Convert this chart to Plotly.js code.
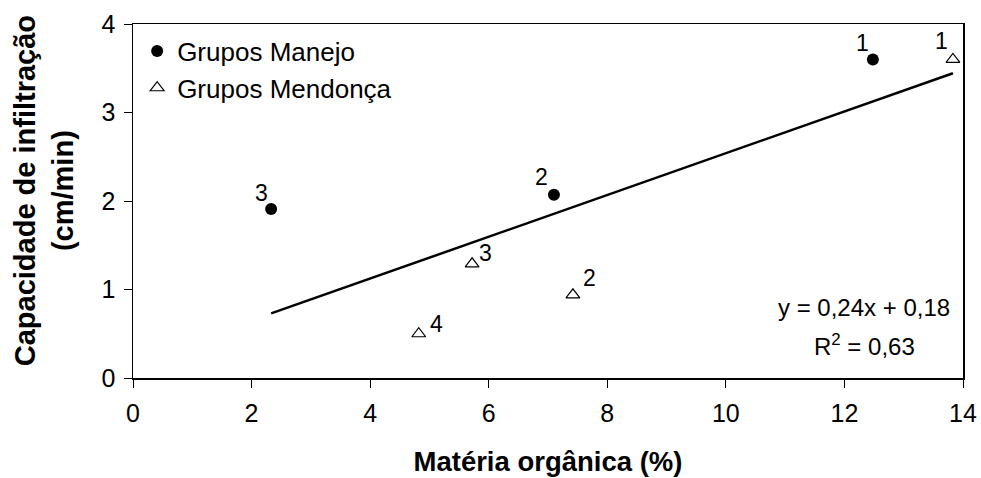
<!DOCTYPE html>
<html><head><meta charset="utf-8">
<script src="https://cdn.plot.ly/plotly-3.0.1.min.js"></script>
<style>html,body{margin:0;padding:0;background:#fff}</style>
</head><body><div id="chart" style="width:981px;height:478px"></div>
<script>
const manejoX = [12.48, 7.10, 2.33];
const manejoY = [3.60, 2.07, 1.91];
const manejoLabels = ["1", "2", "3"];
const mendoncaX = [13.83, 7.42, 5.72, 4.82];
const mendoncaY = [3.60, 0.94, 1.29, 0.50];
const mendoncaLabels = ["1", "2", "3", "4"];
const trendSlope = 0.236;
const trendIntercept = 0.18;
const eqText = "y = 0,24x + 0,18";
const r2Text = "R<sup>2</sup> = 0,63";
const xTitle = "Matéria orgânica (%)";
const yTitle = "Capacidade de infiltração<br>(cm/min)";

const allX = manejoX.concat(mendoncaX);
const xMin = Math.min(...allX), xMax = Math.max(...allX);
const FONT = "Liberation Sans, Arial, sans-serif";

const traces = [
  {x: manejoX, y: manejoY, mode: "markers", type: "scatter", name: "Grupos Manejo",
   marker: {symbol: "circle", size: 12, color: "#000"}},
  {x: mendoncaX, y: mendoncaY, mode: "markers", type: "scatter", name: "Grupos Mendonça",
   marker: {symbol: "triangle-up-open", size: 12, color: "#000", line: {width: 1.2, color: "#000"}}},
  {x: [xMin, xMax], y: [trendSlope * xMin + trendIntercept, trendSlope * xMax + trendIntercept],
   mode: "lines", type: "scatter", showlegend: false, line: {color: "#000", width: 2.5}, hoverinfo: "skip"}
];

const manejoShift = [[-10, 16], [-12, 18], [-10, 16]];
const mendoncaShift = [[-11, 18], [17, 17], [13, 11], [18, 10]];
const annotations = [];
manejoX.forEach((x, i) => annotations.push({x: x, y: manejoY[i], xref: "x", yref: "y", text: manejoLabels[i],
  showarrow: false, xshift: manejoShift[i][0], yshift: manejoShift[i][1], font: {family: FONT, size: 23, color: "#000"}}));
mendoncaX.forEach((x, i) => annotations.push({x: x, y: mendoncaY[i], xref: "x", yref: "y", text: mendoncaLabels[i],
  showarrow: false, xshift: mendoncaShift[i][0], yshift: mendoncaShift[i][1], font: {family: FONT, size: 23, color: "#000"}}));
annotations.push({x: 0.881, y: 0.198, xref: "paper", yref: "paper", xanchor: "center", yanchor: "middle", text: eqText,
  showarrow: false, font: {family: FONT, size: 24, color: "#000"}});
annotations.push({x: 0.881, y: 0.093, xref: "paper", yref: "paper", xanchor: "center", yanchor: "middle", text: r2Text,
  showarrow: false, font: {family: FONT, size: 24, color: "#000"}});
annotations.push({x: -0.107, y: 0.528, xref: "paper", yref: "paper", xanchor: "center", yanchor: "middle",
  text: "<b>" + yTitle + "</b>", textangle: -90, showarrow: false,
  font: {family: FONT, size: 29, color: "#000"}});

const layout = {
  width: 981, height: 478,
  margin: {l: 133, r: 18, t: 24, b: 100},
  paper_bgcolor: "#fff", plot_bgcolor: "#fff",
  font: {family: FONT, size: 25, color: "#000"},
  showlegend: true,
  legend: {x: 0.005, y: 0.99, xanchor: "left", yanchor: "top", bgcolor: "rgba(0,0,0,0)",
    font: {family: FONT, size: 26, color: "#000"}, itemwidth: 30},
  xaxis: {range: [0, 14], tickvals: [0, 2, 4, 6, 8, 10, 12, 14], showgrid: false, zeroline: false,
    showline: true, linecolor: "#000", linewidth: 1.5, mirror: true, ticks: "outside", ticklen: 8, tickcolor: "#000",
    tickfont: {family: FONT, size: 25}, ticklabelstandoff: 4,
    title: {text: "<b>" + xTitle + "</b>", font: {family: FONT, size: 27.5}, standoff: 26}},
  yaxis: {range: [0, 4], tickvals: [0, 1, 2, 3, 4], showgrid: false, zeroline: false,
    showline: true, linecolor: "#000", linewidth: 1.5, mirror: true, ticks: "outside", ticklen: 8, tickcolor: "#000",
    tickfont: {family: FONT, size: 25}, ticklabelstandoff: 3},
  annotations: annotations
};
Plotly.newPlot("chart", traces, layout, {displayModeBar: false, staticPlot: true});
</script></body></html>
